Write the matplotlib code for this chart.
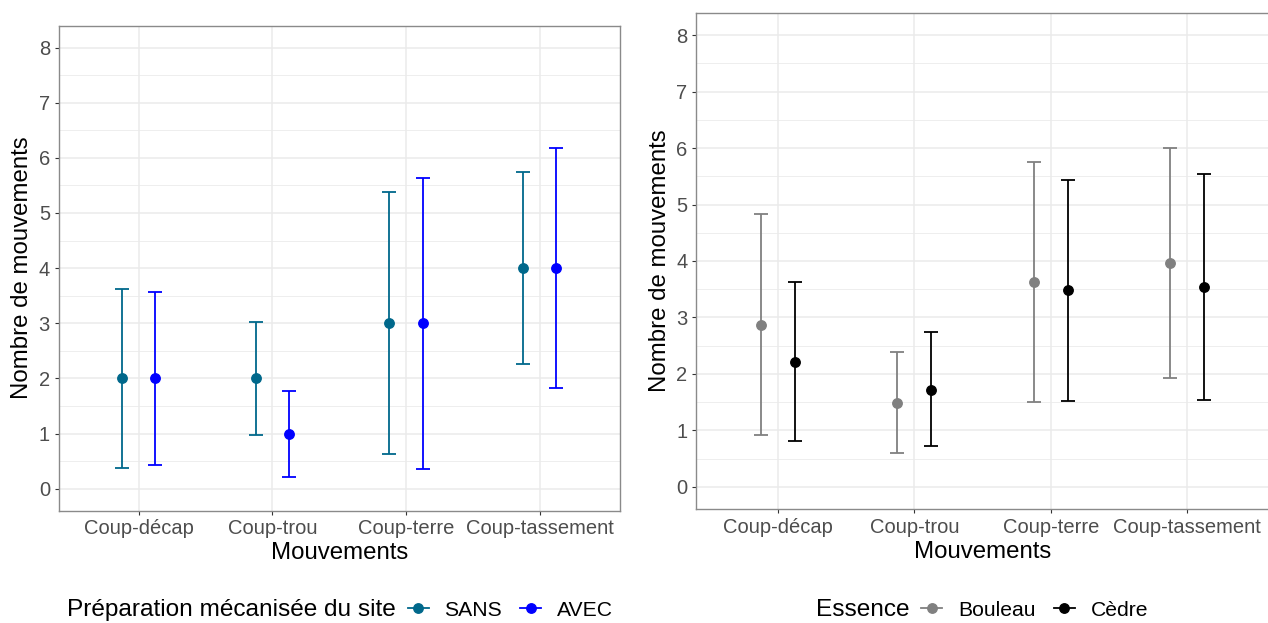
import matplotlib
matplotlib.use("Agg")
import matplotlib.pyplot as plt
from matplotlib.lines import Line2D
from matplotlib.ticker import MultipleLocator
import numpy as np

plt.rcParams['font.family'] = ['Liberation Sans', 'DejaVu Sans']

# ---------------- data ----------------
categories = ["Coup-décap", "Coup-trou", "Coup-terre", "Coup-tassement"]

# Left panel: Préparation mécanisée du site
prep_labels = ["SANS", "AVEC"]
sans_mean = [2, 2, 3, 4]
sans_low = [0.37, 0.97, 0.62, 2.26]
sans_high = [3.63, 3.02, 5.38, 5.74]
avec_mean = [2, 1, 3, 4]
avec_low = [0.43, 0.22, 0.36, 1.83]
avec_high = [3.57, 1.78, 5.64, 6.18]

# Right panel: Essence
ess_labels = ["Bouleau", "Cèdre"]
bouleau_mean = [2.87, 1.49, 3.63, 3.97]
bouleau_low = [0.91, 0.60, 1.51, 1.92]
bouleau_high = [4.84, 2.39, 5.75, 6.00]
cedre_mean = [2.21, 1.72, 3.48, 3.54]
cedre_low = [0.81, 0.72, 1.52, 1.53]
cedre_high = [3.63, 2.74, 5.44, 5.54]

W, H = 1268, 623
fig = plt.figure(figsize=(W / 100, H / 100), dpi=100)

TICK_FS = 14.5
TITLE_FS = 17.3
LEG_FS = 15.2
LEG_TITLE_FS = 17.6
GRID = "#EBEBEB"


def style_axes(ax):
    ax.set_xlim(-0.6, 3.6)
    ax.set_ylim(-0.4, 8.4)
    ax.set_xticks(range(len(categories)))
    ax.set_xticklabels(categories)
    ax.yaxis.set_major_locator(MultipleLocator(1))
    ax.yaxis.set_minor_locator(MultipleLocator(0.5))
    ax.set_axisbelow(True)
    ax.grid(True, which="major", color=GRID, linewidth=1.1)
    ax.grid(True, which="minor", axis="y", color=GRID, linewidth=0.6)
    ax.tick_params(which="minor", length=0)
    ax.tick_params(which="major", length=3.2, width=0.8, color="#333333",
                   labelcolor="#4D4D4D", labelsize=TICK_FS, pad=3)
    for s in ax.spines.values():
        s.set_color("#8A8A8A")
        s.set_linewidth(1.0)
    ax.set_xlabel("Mouvements", fontsize=TITLE_FS, labelpad=3)
    ax.set_ylabel("Nombre de mouvements", fontsize=TITLE_FS, labelpad=4)


def draw_series(ax, offset, mean, low, high, color):
    x = np.arange(len(mean)) + offset
    mean = np.asarray(mean)
    yerr = [mean - np.asarray(low), np.asarray(high) - mean]
    ax.errorbar(x, mean, yerr=yerr, fmt="o", color=color, ecolor=color,
                elinewidth=1.3, capsize=4.8, capthick=1.3, markersize=6.8,
                zorder=3)


dodge = 0.125

axL = fig.add_axes([58.5 / W, 1 - 510.7 / H, 561.5 / W, (510.7 - 25.5) / H])
style_axes(axL)
teal = "#00688B"
blue = "#0000FF"
draw_series(axL, -dodge, sans_mean, sans_low, sans_high, teal)
draw_series(axL, dodge, avec_mean, avec_low, avec_high, blue)

axR = fig.add_axes([696 / W, 1 - 509.3 / H, 573 / W, (509.3 - 12.7) / H])
style_axes(axR)
grey = "#808080"
black = "#000000"
draw_series(axR, -dodge, bouleau_mean, bouleau_low, bouleau_high, grey)
draw_series(axR, dodge, cedre_mean, cedre_low, cedre_high, black)

fig.canvas.draw()
renderer = fig.canvas.get_renderer()


def centered_legend(cx_px, cy_px, title, labels, colors):
    handles = [Line2D([0], [0], color=c, lw=1.3, marker="o", markersize=6.8)
               for c in colors]
    cy = 1 - cy_px / H
    t = fig.text(0, cy, title, fontsize=LEG_TITLE_FS, va="center", ha="left")
    leg = fig.legend(handles, labels, loc="center left",
                     bbox_to_anchor=(0, cy), bbox_transform=fig.transFigure,
                     ncol=len(labels), frameon=False, fontsize=LEG_FS,
                     borderpad=0, borderaxespad=0, handlelength=1.0,
                     handletextpad=0.75, columnspacing=0.85)
    fig.canvas.draw()
    wt = t.get_window_extent(renderer).width
    wl = leg.get_window_extent(renderer).width
    gap = 12
    total = wt + gap + wl
    x0 = cx_px - total / 2
    t.set_x(x0 / W)
    leg.set_bbox_to_anchor(((x0 + wt + gap) / W, cy), transform=fig.transFigure)


centered_legend(340, 610, "Préparation mécanisée du site", prep_labels, [teal, blue])
centered_legend(982, 610, "Essence", ess_labels, [grey, black])

fig.savefig("out.png", dpi=100)
